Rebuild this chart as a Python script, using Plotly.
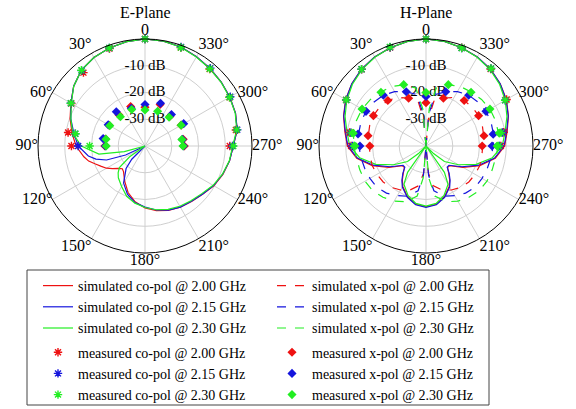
import plotly.graph_objects as go

# ---------------- data ----------------
freqs = ["2.00", "2.15", "2.30"]
colors = ["#ee1111", "#1515dd", "#22ee22"]

angle_ticks = [0, 30, 60, 90, 120, 150, 180, 210, 240, 270, 300, 330]
angle_labels = ["0", "30°", "60°", "90°", "120°", "150°", "180°", "210°", "240°", "270°", "300°", "330°"]
radial_ticks = [-10, -20, -30]
radial_labels = ["-10 dB", "-20 dB", "-30 dB"]
r_range = [-40, 0]

# E-plane simulated co-pol
theta_e = [0, 10, 20, 30, 40, 50, 60, 70, 80, 90, 100, 105, 110, 115, 120, 125, 130, 135, 140, 150,
           160, 170, 180, 190, 200, 210, 220, 230, 240, 250, 260, 270, 280, 290, 300, 310, 320, 330,
           340, 350, 360]
e_co_200 = [0, -0.4, -1.0, -1.8, -3.0, -5.2, -8.0, -10.2, -12.3, -14.2, -16.8, -18.2, -20.3, -22.0,
            -23.4, -25.2, -27.0, -28.0, -27.5, -24.8, -21.5, -18.8, -16.8, -15.5, -14.4, -13.6, -12.9,
            -11.9, -10.3, -9.0, -7.9, -7.0, -5.0, -4.0, -3.4, -2.8, -2.2, -1.5, -0.6, -0.2, 0]
e_co_215 = [0, -0.4, -1.0, -1.8, -3.0, -5.2, -8.0, -10.5, -13.0, -15.0, -18.5, -21.0, -24.7, -32.0,
            -40.0, -40.0, -40.0, -33.0, -29.0, -24.0, -20.8, -18.5, -17.2, -15.7, -14.5, -13.6, -13.0,
            -12.0, -10.4, -9.1, -7.9, -7.0, -5.0, -4.0, -3.4, -2.8, -2.2, -1.5, -0.6, -0.2, 0]
e_co_230 = [0, -0.4, -1.0, -1.8, -3.0, -5.2, -8.2, -10.5, -12.6, -16.2, -22.5, -32.0, -40.0, -40.0,
            -40.0, -33.0, -27.5, -25.8, -24.5, -22.5, -20.0, -18.3, -17.0, -15.8, -14.8, -14.0, -13.3,
            -12.3, -10.6, -9.2, -8.0, -7.2, -5.2, -4.1, -3.5, -2.9, -2.3, -1.6, -0.7, -0.2, 0]

# measured points (both planes)
theta_meas = [0, 20, 40, 60, 80, 90, 270, 280, 300, 320, 340]
e_meas_co_200 = [0, -1.2, -4.2, -8.2, -10.8, -12.5, -8.3, -5.5, -3.5, -2.4, -0.8]
e_meas_co_215 = [0, -1.0, -3.2, -8.0, -13.5, -15.0, -7.3, -5.0, -3.2, -2.0, -0.6]
e_meas_co_230 = [0, -1.0, -3.0, -8.0, -13.6, -19.3, -7.0, -5.2, -3.5, -2.3, -0.8]
e_meas_x_200 = [-25.5, -24.3, -24.8, -24.5, -25.0, -25.0, -25.3, -25.5, -24.4, -25.5, -23.5]
e_meas_x_215 = [-24.5, -25.0, -23.3, -24.1, -24.1, -25.2, -25.6, -25.8, -23.3, -24.6, -23.0]
e_meas_x_230 = [-26.5, -25.5, -25.7, -24.8, -25.2, -25.5, -25.8, -26.0, -24.4, -26.0, -26.2]

# H-plane simulated co-pol
theta_h = [0, 10, 20, 30, 40, 50, 60, 70, 80, 90, 100, 110, 120, 130, 135, 140, 145, 150, 160, 170,
           180, 190, 200, 210, 215, 220, 225, 230, 240, 250, 260, 270, 280, 290, 300, 310, 320, 330,
           340, 350, 360]
h_co_200 = [0, -0.3, -0.9, -1.6, -2.5, -3.8, -5.3, -7.2, -9.2, -10.6, -13.7, -18.6, -24.0, -28.5,
            -28.6, -26.8, -24.6, -22.6, -19.8, -17.9, -17.3, -17.9, -19.8, -22.6, -24.6, -26.8, -28.6,
            -28.5, -24.0, -18.6, -13.7, -10.6, -9.2, -7.2, -5.3, -3.8, -2.5, -1.6, -0.9, -0.3, 0]
h_co_215 = [0, -0.3, -0.9, -1.6, -2.5, -3.8, -5.4, -7.3, -9.4, -10.8, -14.0, -19.0, -24.5, -28.8,
            -28.8, -26.5, -24.3, -22.3, -19.6, -17.7, -17.1, -17.7, -19.6, -22.3, -24.3, -26.5, -28.8,
            -28.8, -24.5, -19.0, -14.0, -10.8, -9.4, -7.3, -5.4, -3.8, -2.5, -1.6, -0.9, -0.3, 0]
h_co_230 = [0, -0.3, -0.9, -1.7, -2.7, -4.1, -5.8, -7.8, -10.0, -11.5, -14.8, -20.0, -26.0, -31.0,
            -36.0, -40.0, -28.0, -23.5, -20.3, -18.2, -17.5, -18.2, -20.3, -23.5, -28.0, -40.0, -36.0,
            -31.0, -26.0, -20.0, -14.8, -11.5, -10.0, -7.8, -5.8, -4.1, -2.7, -1.7, -0.9, -0.3, 0]

# H-plane simulated x-pol
theta_hx = [0, 5, 10, 20, 30, 40, 50, 60, 70, 80, 90, 100, 110, 120, 130, 140, 150, 160, 170, 175,
            180, 185, 190, 200, 210, 220, 230, 240, 250, 260, 270, 280, 290, 300, 310, 320, 330, 340,
            350, 355, 360]
h_x_200 = [-40, -30, -23, -21, -19, -17.8, -17.4, -17.3, -17.6, -18.1, -18.8, -18.8, -18.6, -18.8,
           -19.1, -19.8, -21, -22.5, -25, -30, -40, -30, -25, -22.5, -21, -19.8, -19.1, -18.8, -18.6,
           -18.8, -18.8, -18.1, -17.6, -17.3, -17.4, -17.8, -19, -21, -23, -30, -40]
h_x_215 = [-40, -28, -20.5, -18.4, -16.5, -15.2, -14.5, -14.1, -14.1, -14.4, -14.9, -15.3, -15.6,
           -15.8, -16, -17, -18.6, -20, -23, -29, -40, -29, -23, -20, -18.6, -17, -16, -15.8, -15.6,
           -15.3, -14.9, -14.4, -14.1, -14.1, -14.5, -15.2, -16.5, -18.4, -20.5, -28, -40]
h_x_230 = [-40, -26, -18, -15.7, -14.3, -13.7, -12.9, -12.4, -12.3, -12.5, -13, -13.6, -13.7, -13.7,
           -14, -15, -16.2, -17.8, -21, -28, -40, -28, -21, -17.8, -16.2, -15, -14, -13.7, -13.7,
           -13.6, -13, -12.5, -12.3, -12.4, -12.9, -13.7, -14.3, -15.7, -18, -26, -40]

h_meas_co_200 = [0, -0.8, -2.6, -5.5, -11.0, -12.0, -12.0, -10.5, -5.2, -2.4, -0.9]
h_meas_co_215 = [0, -0.7, -2.5, -5.6, -11.5, -12.5, -12.5, -11.0, -5.8, -2.2, -1.0]
h_meas_co_230 = [0, -0.6, -2.5, -5.6, -11.7, -13.1, -12.8, -11.5, -5.8, -2.2, -1.0]
h_meas_x_200 = [-23.8, -21.0, -17.8, -17.3, -18.0, -19.0, -19.0, -18.0, -17.3, -17.8, -21.0]
h_meas_x_215 = [-21.5, -18.4, -15.2, -14.1, -14.2, -15.3, -15.3, -14.5, -14.1, -15.2, -18.4]
h_meas_x_230 = [-20.0, -15.6, -13.8, -12.4, -12.4, -13.4, -13.4, -12.2, -12.4, -13.8, -15.6]

# ---------------- figure ----------------
FONT = "Liberation Serif, Times New Roman, serif"
W, H = 576, 409


def X(px):
    return px / W


def Y(py):
    return 1 - py / H


# where each angle label sits relative to its point on the outer ring
angle_label_pos = ["top center", "top left", "middle left", "middle left", "middle left",
                   "bottom left", "bottom center", "bottom right", "middle right", "middle right",
                   "middle right", "top right"]

fig = go.Figure()

for sp in ["polar", "polar2"]:
    fig.add_trace(go.Scatterpolar(
        theta=[0] * len(radial_ticks), r=radial_ticks, text=radial_labels, mode="text",
        textfont=dict(family=FONT, size=15, color="black"), showlegend=False,
        hoverinfo="skip", subplot=sp, cliponaxis=False))
    fig.add_trace(go.Scatterpolar(
        theta=angle_ticks, r=[r_range[1]] * len(angle_ticks), text=angle_labels, mode="text",
        textposition=angle_label_pos, textfont=dict(family=FONT, size=16, color="black"),
        showlegend=False, hoverinfo="skip", subplot=sp, cliponaxis=False))

e_co = [e_co_200, e_co_215, e_co_230]
h_co = [h_co_200, h_co_215, h_co_230]
h_x = [h_x_200, h_x_215, h_x_230]
e_mc = [e_meas_co_200, e_meas_co_215, e_meas_co_230]
e_mx = [e_meas_x_200, e_meas_x_215, e_meas_x_230]
h_mc = [h_meas_co_200, h_meas_co_215, h_meas_co_230]
h_mx = [h_meas_x_200, h_meas_x_215, h_meas_x_230]

for i, f in enumerate(freqs):
    c = colors[i]
    fig.add_trace(go.Scatterpolar(theta=theta_e, r=e_co[i], mode="lines", subplot="polar",
                                  line=dict(color=c, width=1.2), name=f"simulated co-pol @ {f} GHz",
                                  legend="legend", legendgroup="sim", legendrank=1 + i))
    fig.add_trace(go.Scatterpolar(theta=theta_h, r=h_co[i], mode="lines", subplot="polar2",
                                  line=dict(color=c, width=1.2), showlegend=False))
for i, f in enumerate(freqs):
    c = colors[i]
    fig.add_trace(go.Scatterpolar(theta=theta_hx, r=h_x[i], mode="lines", subplot="polar2",
                                  line=dict(color=c, width=1.2, dash="dash"),
                                  name=f"simulated x-pol @ {f} GHz",
                                  legend="legend2", legendgroup="sim", legendrank=1 + i))
for i, f in enumerate(freqs):
    c = colors[i]
    mk_co = dict(symbol="asterisk", size=7, color=c, line=dict(color=c, width=1.4))
    mk_x = dict(symbol="diamond", size=7, color=c, line=dict(width=0))
    fig.add_trace(go.Scatterpolar(theta=theta_meas, r=e_mc[i], mode="markers", subplot="polar",
                                  marker=mk_co, name=f"measured co-pol @ {f} GHz",
                                  legend="legend", legendgroup="meas", legendrank=4 + i))
    fig.add_trace(go.Scatterpolar(theta=theta_meas, r=h_mc[i], mode="markers", subplot="polar2",
                                  marker=mk_co, showlegend=False))
    fig.add_trace(go.Scatterpolar(theta=theta_meas, r=e_mx[i], mode="markers", subplot="polar",
                                  marker=mk_x, name=f"measured x-pol @ {f} GHz",
                                  legend="legend2", legendgroup="meas", legendrank=4 + i))
    fig.add_trace(go.Scatterpolar(theta=theta_meas, r=h_mx[i], mode="markers", subplot="polar2",
                                  marker=mk_x, showlegend=False))


def polar_layout(x0, x1, y0, y1):
    return dict(
        domain=dict(x=[X(x0), X(x1)], y=[Y(y1), Y(y0)]),
        bgcolor="white",
        radialaxis=dict(range=r_range, tickvals=radial_ticks, showticklabels=False,
                        showline=False, ticks="", gridcolor="#cfcfcf", gridwidth=1, angle=90),
        angularaxis=dict(rotation=90, direction="counterclockwise", tickmode="array",
                         tickvals=angle_ticks, showticklabels=False, ticks="",
                         showline=True, linecolor="black", linewidth=1,
                         gridcolor="#cfcfcf", gridwidth=1),
    )


def legend_box(xpx):
    return dict(orientation="v", x=X(xpx), y=Y(270), xanchor="left", yanchor="top",
                bgcolor="rgba(0,0,0,0)", borderwidth=0, font=dict(family=FONT, size=14),
                traceorder="grouped", tracegroupgap=3, itemsizing="trace")


fig.update_layout(
    width=W, height=H,
    margin=dict(l=0, r=0, t=0, b=0, autoexpand=False),
    paper_bgcolor="white",
    font=dict(family=FONT, size=15, color="black"),
    polar=polar_layout(38, 252, 39, 253),
    polar2=polar_layout(319, 533, 39, 253),
    showlegend=True,
    legend=legend_box(38),
    legend2=legend_box(272),
    shapes=[dict(type="rect", xref="paper", yref="paper", x0=X(27), x1=X(489),
                 y0=Y(405), y1=Y(270), line=dict(color="#444", width=1),
                 fillcolor="rgba(0,0,0,0)", layer="below")],
    annotations=[
        dict(text="E-Plane", x=X(145), y=Y(12), xref="paper", yref="paper", xanchor="center",
             yanchor="middle", showarrow=False, font=dict(family=FONT, size=16)),
        dict(text="H-Plane", x=X(426), y=Y(12), xref="paper", yref="paper", xanchor="center",
             yanchor="middle", showarrow=False, font=dict(family=FONT, size=16)),
    ],
)

fig.write_html("out.html", config={"displayModeBar": False},
               post_script="document.body.style.margin='0';")
